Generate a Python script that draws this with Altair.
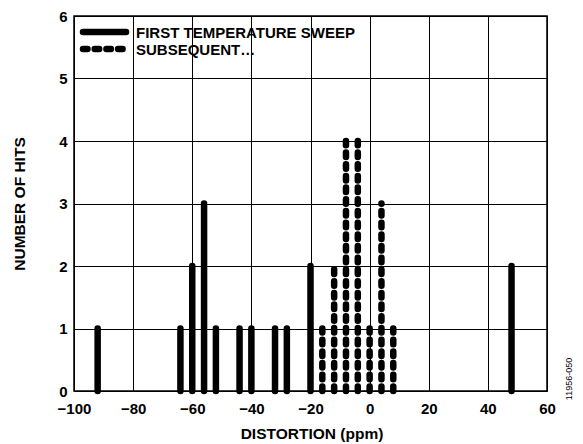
import altair as alt
import pandas as pd

# Data
first_x = [-92, -64, -60, -56, -52, -44, -40, -32, -28, -20, 48]
first_hits = [1, 1, 2, 3, 1, 1, 1, 1, 1, 2, 2]
subs_x = [-16, -12, -8, -4, 0, 4, 8]
subs_hits = [1, 2, 4, 4, 1, 3, 1]
series_names = ["FIRST TEMPERATURE SWEEP", "SUBSEQUENT…"]
x_ticks = [-100, -80, -60, -40, -20, 0, 20, 40, 60]
y_ticks = [0, 1, 2, 3, 4, 5, 6]

df = pd.DataFrame({
    "x": first_x + subs_x,
    "hits": first_hits + subs_hits,
    "series": [series_names[0]] * len(first_x) + [series_names[1]] * len(subs_x),
})

FONT = "Arial, Liberation Sans, Helvetica, sans-serif"
W, H = 473, 375
DASHES = [[1, 0], [4.5, 7.2]]
dash_scale = alt.Scale(domain=series_names, range=DASHES)

bars = alt.Chart(df).mark_rule(strokeWidth=6.5, strokeCap="round", color="black").encode(
    x=alt.X("x:Q", scale=alt.Scale(domain=[-100, 60], nice=False, zero=False),
            axis=alt.Axis(values=x_ticks, title="DISTORTION (ppm)", ticks=False,
                          labelPadding=10, labelFlush=False, grid=True, gridColor="black",
                          gridWidth=1, gridOpacity=1, domain=False, titleX=W / 2 + 1,
                          titleY=47, titleBaseline="alphabetic")),
    y=alt.Y("zero:Q", scale=alt.Scale(domain=[0, 6], nice=False),
            axis=alt.Axis(values=y_ticks, title="NUMBER OF HITS", ticks=False,
                          labelPadding=7, labelFlush=False, grid=True, gridColor="black",
                          gridWidth=1, gridOpacity=1, domain=False, titleX=-55, titleY=H / 2,
                          titleAngle=-90, titleBaseline="middle", titleAlign="center")),
    y2="hits:Q",
    strokeDash=alt.StrokeDash("series:N", scale=dash_scale, legend=None),
).transform_calculate(zero="0")

# manual legend (decoration)
legend_layers = []
for i, name in enumerate(series_names):
    ly = 16 + 17 * i
    ldf = pd.DataFrame({"series": [name]})
    legend_layers.append(
        alt.Chart(ldf).mark_rule(strokeWidth=6.5, strokeCap="round", color="black").encode(
            x=alt.value(9), x2=alt.value(52), y=alt.value(ly),
            strokeDash=alt.StrokeDash("series:N", scale=dash_scale, legend=None)))
    legend_layers.append(
        alt.Chart(ldf).mark_text(align="left", baseline="middle", font=FONT, fontSize=15,
                                 fontWeight="bold", color="black").encode(
            x=alt.value(62), y=alt.value(ly + 0.5), text="series:N"))

note = alt.Chart(pd.DataFrame({"t": ["11956-050"]})).mark_text(
    angle=270, fontSize=9, font=FONT, color="black", baseline="middle", align="center"
).encode(x=alt.value(W + 22), y=alt.value(H - 12), text="t:N")

chart = alt.layer(bars, *legend_layers, note).properties(
    width=W, height=H,
    autosize=alt.AutoSizeParams(type="none"),
    padding={"left": 66, "top": 8, "right": 28, "bottom": 52},
).configure(background="white").configure_view(
    stroke="black", strokeWidth=1.5
).configure_axis(
    labelFont=FONT, labelFontSize=15, labelFontWeight="bold", labelColor="black",
    titleFont=FONT, titleFontSize=15.5, titleFontWeight="bold", titleColor="black",
)

chart.save("out.html", embed_options={"renderer": "svg", "actions": False})
